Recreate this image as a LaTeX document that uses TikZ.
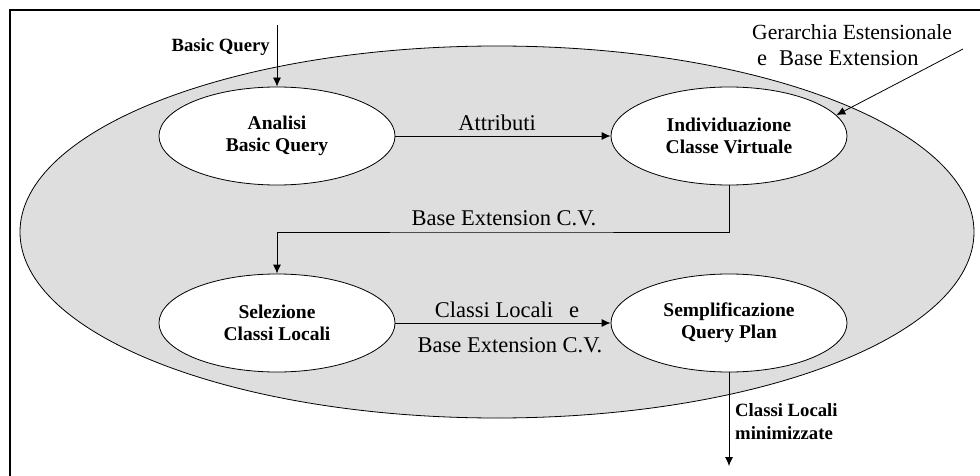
\documentclass[tikz,border=0pt]{standalone}
\usepackage{fontspec}
\setmainfont{Liberation Serif}
\usetikzlibrary{shapes.geometric,arrows.meta}
\definecolor{regionfill}{RGB}{222,222,222}
\tikzset{
  stage/.style={ellipse, draw=black, line width=0.8pt, fill=white, inner sep=0pt,
    minimum width=236pt, minimum height=98pt, align=center,
    font=\fontsize{19.5}{22}\selectfont\bfseries},
  flow/.style={line width=0.8pt, -{Latex[length=9pt,width=8pt]}},
  lbl/.style={inner sep=0pt, font=\fontsize{22.5}{26}\selectfont},
  blbl/.style={inner sep=0pt, font=\fontsize{18.7}{23}\selectfont\bfseries}
}
\begin{document}
\begin{tikzpicture}[x=1pt,y=-1pt]
  \useasboundingbox (0,0) rectangle (980,476);
  % frame (top and left edges)
  \draw[line width=1.4pt] (10,476) -- (10,10) -- (980,10);
  % shaded processing region
  \node[ellipse, draw=black, line width=0.8pt, fill=regionfill,
        minimum width=954pt, minimum height=372pt, inner sep=0pt] (outer) at (497,232) {};
  % stages
  \node[stage] (a) at (277,136) {Analisi\\Basic Query};
  \node[stage] (b) at (729,136) {Individuazione\\Classe Virtuale};
  \node[stage] (c) at (277,323) {Selezione\\Classi Locali};
  \node[stage] (d) at (729,323) {Semplificazione\\Query Plan};
  % free ends of the input / output connectors
  \coordinate (qin) at (277,25);
  \coordinate (gin) at (963,49);
  \coordinate (out) at (729,466);
  \coordinate (mid) at (500,232);
  % connectors
  \draw[flow] (qin) -- (a.north);
  \draw[flow] (a) -- (b);
  \draw[flow] (gin) -- (b.11);
  \draw[flow] (b.south) |- (mid) -| (c.north);
  \draw[flow] (c) -- (d);
  \draw[flow] (d.south) -- (out);
  % labels
  \node[blbl, anchor=base east] (lq) at (270,52) {Basic Query};
  \node[lbl, anchor=base] (lat) at (497,131) {Attributi};
  \node[lbl, anchor=base west, font=\fontsize{21.6}{26}\selectfont] (lg1) at (752,40) {Gerarchia Estensionale};
  \node[lbl, anchor=base west] (lg2) at (757,66) {e\hspace{12pt}Base Extension};
  \node[lbl, anchor=base] (lbe) at (504,225) {Base Extension C.V.};
  \node[lbl, anchor=base] (lcl) at (507,317) {Classi Locali\hspace{16pt}e};
  \node[lbl, anchor=base] (lbe2) at (510,352) {Base Extension C.V.};
  \node[blbl, anchor=north west, align=left] (lout) at (735,403) {Classi Locali\\minimizzate};
\end{tikzpicture}
\end{document}
